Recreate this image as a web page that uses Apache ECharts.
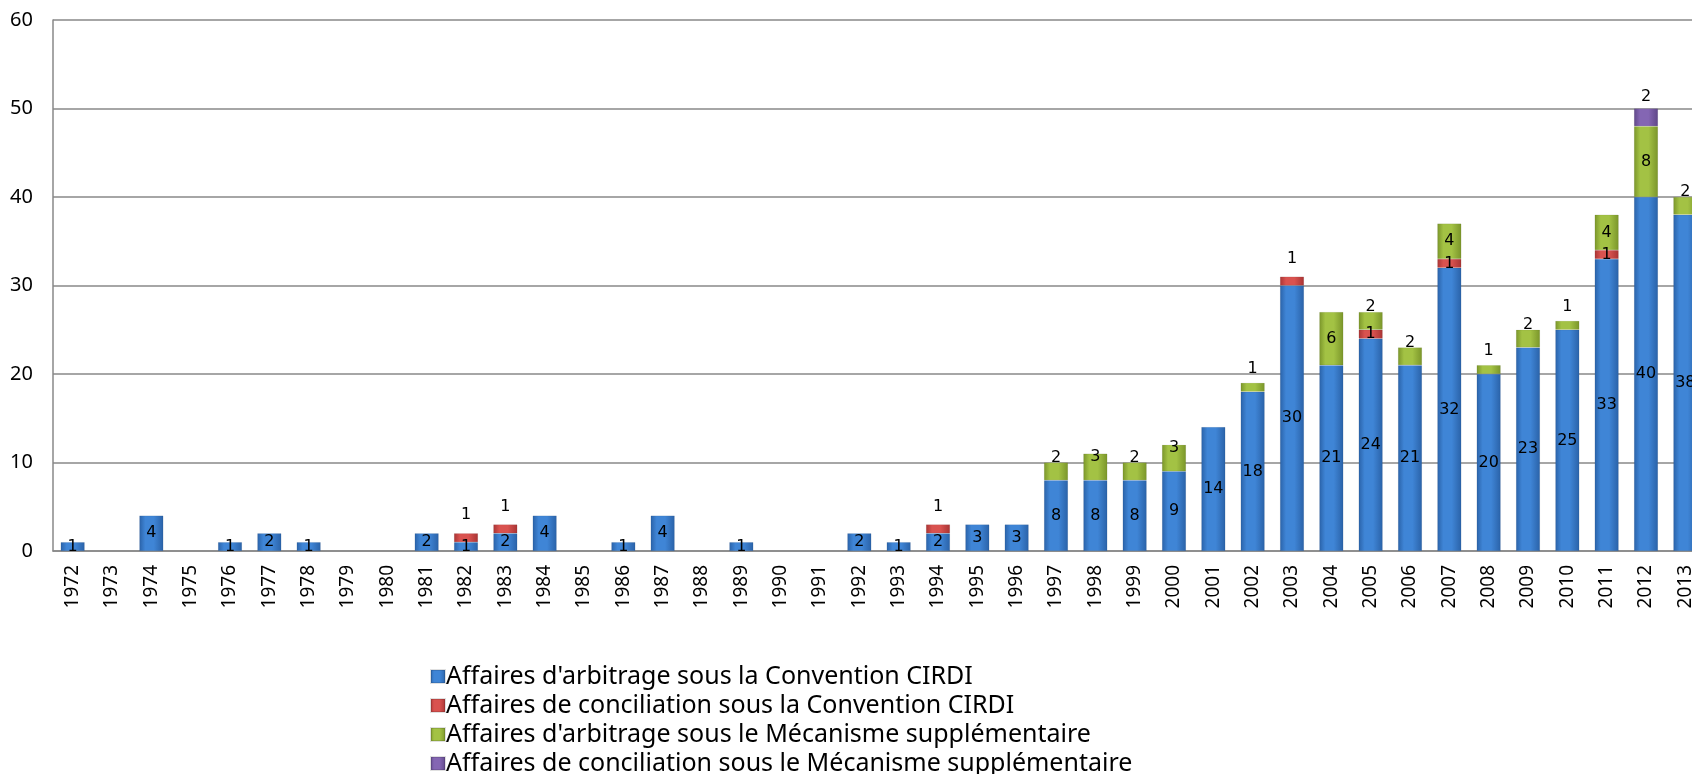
<!DOCTYPE html>
<html style="height: 100%">
<head>
    <meta charset="utf-8">
    <title>Affaires CIRDI par année</title>
</head>
<body style="height: 100%; margin: 0; background: #fff; overflow: hidden">
<div id="container" style="width: 1705px; height: 800px"></div>
<script type="text/javascript" src="https://cdn.jsdelivr.net/npm/echarts@6/dist/echarts.min.js"></script>
<script type="text/javascript">
    // années
    var years = ['1972', '1973', '1974', '1975', '1976', '1977', '1978', '1979', '1980', '1981',
        '1982', '1983', '1984', '1985', '1986', '1987', '1988', '1989', '1990', '1991',
        '1992', '1993', '1994', '1995', '1996', '1997', '1998', '1999', '2000', '2001',
        '2002', '2003', '2004', '2005', '2006', '2007', '2008', '2009', '2010', '2011',
        '2012', '2013'];

    // séries
    var arbitrageCirdi = [1, 0, 4, 0, 1, 2, 1, 0, 0, 2,
        1, 2, 4, 0, 1, 4, 0, 1, 0, 0,
        2, 1, 2, 3, 3, 8, 8, 8, 9, 14,
        18, 30, 21, 24, 21, 32, 20, 23, 25, 33,
        40, 38];
    var conciliationCirdi = [0, 0, 0, 0, 0, 0, 0, 0, 0, 0,
        1, 1, 0, 0, 0, 0, 0, 0, 0, 0,
        0, 0, 1, 0, 0, 0, 0, 0, 0, 0,
        0, 1, 0, 1, 0, 1, 0, 0, 0, 1,
        0, 0];
    var arbitrageMS = [0, 0, 0, 0, 0, 0, 0, 0, 0, 0,
        0, 0, 0, 0, 0, 0, 0, 0, 0, 0,
        0, 0, 0, 0, 0, 2, 3, 2, 3, 0,
        1, 0, 6, 2, 2, 4, 1, 2, 1, 4,
        8, 2];
    var conciliationMS = [0, 0, 0, 0, 0, 0, 0, 0, 0, 0,
        0, 0, 0, 0, 0, 0, 0, 0, 0, 0,
        0, 0, 0, 0, 0, 0, 0, 0, 0, 0,
        0, 0, 0, 0, 0, 0, 0, 0, 0, 0,
        2, 0];

    var names = [
        "Affaires d'arbitrage sous la Convention CIRDI",
        "Affaires de conciliation sous la Convention CIRDI",
        "Affaires d'arbitrage sous le Mécanisme supplémentaire",
        "Affaires de conciliation sous le Mécanisme supplémentaire"
    ];
    var allSeries = [arbitrageCirdi, conciliationCirdi, arbitrageMS, conciliationMS];

    // couleurs : bord foncé, centre clair
    var palette = [
        ['#2a62a8', '#3f85d6'],
        ['#a83434', '#d9524f'],
        ['#7a952a', '#a3c244'],
        ['#5f4788', '#8466b3']
    ];
    // distance de l'étiquette au-dessus du segment supérieur, selon sa valeur
    var topDistance = [
        {},
        {1: 10},
        {1: 6, 2: -3, 3: -11},
        {2: 4}
    ];

    function barColor(p) {
        return new echarts.graphic.LinearGradient(0, 0, 1, 0, [
            {offset: 0, color: p[0]},
            {offset: 0.25, color: p[1]},
            {offset: 0.6, color: p[1]},
            {offset: 1, color: p[0]}
        ]);
    }

    function buildData(s) {
        return allSeries[s].map(function (v, i) {
            if (!v) {
                return '-';
            }
            var isTop = true;
            for (var k = s + 1; k < allSeries.length; k++) {
                if (allSeries[k][i]) {
                    isTop = false;
                }
            }
            var d = topDistance[s][v];
            if (s > 0 && isTop && d !== undefined) {
                return {value: v, label: {position: 'top', distance: d}};
            }
            return v;
        });
    }

    var series = names.map(function (name, s) {
        return {
            name: name,
            type: 'bar',
            stack: 'total',
            barWidth: 24,
            data: buildData(s),
            itemStyle: {
                color: barColor(palette[s]),
                borderColor: 'rgba(0,0,0,0.12)',
                borderWidth: 0.5
            },
            label: {
                show: true,
                position: 'inside',
                color: '#000',
                fontFamily: 'DejaVu Sans',
                fontSize: 16
            }
        };
    });

    var dom = document.getElementById("container");
    var myChart = echarts.init(dom);
    var option = {
        animation: false,
        textStyle: {fontFamily: 'Noto Sans'},
        grid: {
            left: 53,
            right: 0,
            top: 20,
            bottom: 249
        },
        legend: {
            orient: 'vertical',
            left: 430,
            top: 664,
            padding: 0,
            icon: 'rect',
            itemWidth: 14,
            itemHeight: 13,
            itemGap: 4,
            textStyle: {
                fontFamily: 'Noto Sans',
                fontSize: 25,
                lineHeight: 25,
                color: '#000',
                padding: [0, 0, 0, -4]
            },
            data: names
        },
        xAxis: {
            type: 'category',
            data: years,
            axisLine: {lineStyle: {color: '#888', width: 1.5}},
            axisTick: {show: false},
            axisLabel: {
                rotate: 90,
                margin: 14,
                color: '#000',
                fontFamily: 'Noto Sans',
                fontSize: 19
            }
        },
        yAxis: {
            type: 'value',
            min: 0,
            max: 60,
            interval: 10,
            axisLine: {show: true, lineStyle: {color: '#888', width: 1.5}},
            axisTick: {show: false},
            splitLine: {lineStyle: {color: '#888', width: 1.5}},
            axisLabel: {
                margin: 20,
                color: '#000',
                fontFamily: 'Noto Sans',
                fontSize: 20
            }
        },
        series: series
    };
    myChart.setOption(option, true);
</script>
</body>
</html>
